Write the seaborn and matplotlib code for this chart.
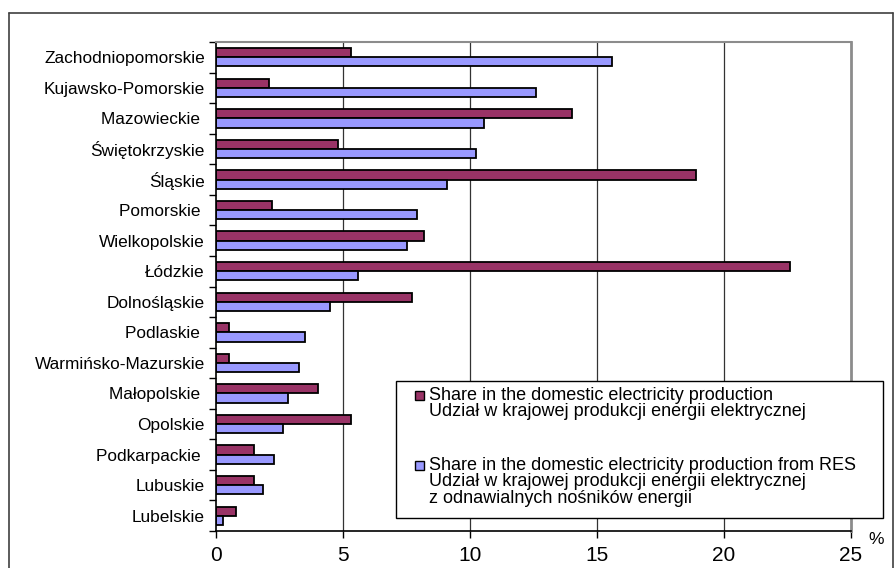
import matplotlib
matplotlib.use("Agg")
import matplotlib.pyplot as plt
from matplotlib.lines import Line2D
from matplotlib.patches import Rectangle
import seaborn as sns
import pandas as pd

regions = [
    "Zachodniopomorskie", "Kujawsko-Pomorskie", "Mazowieckie ", "Świętokrzyskie",
    "Śląskie", "Pomorskie ", "Wielkopolskie", "Łódzkie", "Dolnośląskie",
    "Podlaskie ", "Warmińsko-Mazurskie", "Małopolskie ", "Opolskie",
    "Podkarpackie ", "Lubuskie", "Lubelskie",
]
share_total = [5.3, 2.1, 14.0, 4.8, 18.9, 2.2, 8.2, 22.6, 7.7,
               0.5, 0.5, 4.0, 5.3, 1.5, 1.5, 0.8]
share_res = [15.6, 12.6, 10.55, 10.25, 9.1, 7.9, 7.5, 5.6, 4.47,
             3.52, 3.25, 2.82, 2.62, 2.3, 1.84, 0.26]

label_total = ["Share in the domestic electricity production",
               "Udział w krajowej produkcji energii elektrycznej"]
label_res = ["Share in the domestic electricity production from RES",
             "Udział w krajowej produkcji energii elektrycznej",
             "z odnawialnych nośników energii"]
x_ticks = [0, 5, 10, 15, 20, 25]

c_total = "#993366"
c_res = "#9999FF"

series_total = label_total[0]
series_res = label_res[0]
df = pd.DataFrame({
    "region": regions * 2,
    "value": share_total + share_res,
    "series": [series_total] * len(regions) + [series_res] * len(regions),
})

sns.set_theme(style="white")
plt.rcParams["font.family"] = ["Liberation Sans", "DejaVu Sans"]
plt.rcParams["text.color"] = "black"
plt.rcParams["xtick.color"] = "black"
plt.rcParams["ytick.color"] = "black"

W, H = 894, 568


def fx(x):
    return x / W


def fy(y):
    return 1 - y / H


fig = plt.figure(figsize=(W / 100, H / 100), dpi=100)
ax = fig.add_axes([fx(216), fy(531), (851 - 216) / W, (531 - 42) / H])

sns.barplot(data=df, y="region", x="value", hue="series", orient="h",
            order=regions, hue_order=[series_total, series_res],
            palette={series_total: c_total, series_res: c_res},
            width=0.6, edgecolor="black", linewidth=1.3,
            saturation=1, legend=False, ax=ax)

ax.set_xlim(0, 25)
ax.set_ylim(len(regions) - 0.5, -0.5)
ax.set_xticks(x_ticks)
ax.set_xticklabels([str(t) for t in x_ticks], fontsize=15)
ax.set_xlabel("")
ax.set_ylabel("")

# category labels sit between boundary ticks
ax.set_yticks(range(len(regions)))
ax.set_yticklabels(regions, fontsize=12.4)
ax.set_yticks([i + 0.5 for i in range(-1, len(regions))], minor=True)
ax.tick_params(axis="y", which="major", length=0, pad=8)
ax.tick_params(axis="y", which="minor", length=5, width=1, color="black",
               direction="out", left=True)
ax.tick_params(axis="x", which="major", length=5, width=1, color="black",
               direction="out", bottom=True, pad=6)

for v in [5, 10, 15, 20]:
    ax.axvline(v, color="#333333", linewidth=0.9, zorder=0)

ax.spines["left"].set_color("black")
ax.spines["left"].set_linewidth(1.2)
ax.spines["bottom"].set_color("black")
ax.spines["bottom"].set_linewidth(1.2)
ax.spines["right"].set_color("#8c8c8c")
ax.spines["right"].set_linewidth(2)
ax.spines["top"].set_color("#8c8c8c")
ax.spines["top"].set_linewidth(1.5)

fig.text(fx(876), fy(540), "%", fontsize=12.5, ha="center", va="center")

# legend box with swatches beside the first line of each entry
fig.add_artist(Rectangle((fx(396), fy(518)), (883 - 396) / W, (518 - 381) / H,
                         transform=fig.transFigure, facecolor="white",
                         edgecolor="black", linewidth=1, zorder=5))
line_h = 16.6
for color, lines, y0 in [(c_total, label_total, 395), (c_res, label_res, 465)]:
    fig.add_artist(Rectangle((fx(415), fy(y0 + 4.5)), 9 / W, 9 / H,
                             transform=fig.transFigure, facecolor=color,
                             edgecolor="black", linewidth=1, zorder=6))
    for i, line in enumerate(lines):
        fig.text(fx(429), fy(y0 + i * line_h), line, fontsize=13,
                 ha="left", va="center", zorder=7)

# outer chart frame
frame = dict(transform=fig.transFigure, color="#404040", linewidth=1.2)
fig.add_artist(Line2D([fx(9), fx(9)], [0, fy(13)], **frame))
fig.add_artist(Line2D([fx(9), fx(893)], [fy(13), fy(13)], **frame))
fig.add_artist(Line2D([fx(893), fx(893)], [0, fy(13)], **frame))

fig.savefig("out.png", dpi=100)
